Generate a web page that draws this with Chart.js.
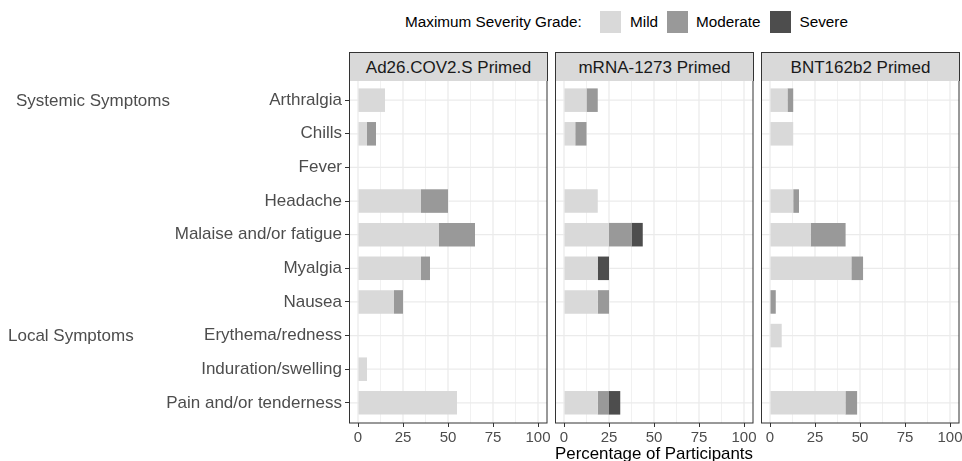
<!DOCTYPE html>
<html>
<head>
<meta charset="utf-8">
<script src="https://cdn.jsdelivr.net/npm/chart.js@4.4.1/dist/chart.umd.min.js"></script>
<style>
  html, body { margin: 0; padding: 0; background: #fff; overflow: hidden; }
  #wrap { position: relative; width: 962px; height: 461px; overflow: hidden;
          font-family: "Liberation Sans", Arial, sans-serif; }
  canvas { position: absolute; }
  .strip { position: absolute; box-sizing: border-box; height: 29px; top: 51.5px;
           background: #d9d9d9; border: 1px solid #333; border-bottom: none;
           font-size: 17px; color: #1a1a1a; text-align: center; line-height: 29px; }
  .leg { position: absolute; font-size: 15.3px; color: #000; line-height: 18px; top: 13px; }
  .key { position: absolute; top: 10.5px; width: 21px; height: 22px; }
</style>
</head>
<body>
<div id="wrap">
  <div class="leg" style="left:405px">Maximum Severity Grade:</div>
  <div class="key" style="left:600px;background:#d9d9d9"></div>
  <div class="leg" style="left:630px">Mild</div>
  <div class="key" style="left:666.5px;background:#999999"></div>
  <div class="leg" style="left:696px">Moderate</div>
  <div class="key" style="left:770px;background:#4d4d4d"></div>
  <div class="leg" style="left:799.5px">Severe</div>
</div>
<script>
const categories = ["Arthralgia", "Chills", "Fever", "Headache", "Malaise and/or fatigue",
  "Myalgia", "Nausea", "Erythema/redness", "Induration/swelling", "Pain and/or tenderness"];
const severities = ["Mild", "Moderate", "Severe"];
const severityColors = ["#d9d9d9", "#999999", "#4d4d4d"];
const panelTitles = ["Ad26.COV2.S Primed", "mRNA-1273 Primed", "BNT162b2 Primed"];

// percentages, one array per severity, rows follow categories
const ad26Mild     = [15, 5, 0, 35, 45, 35, 20, 0, 5, 55];
const ad26Moderate = [0, 5, 0, 15, 20, 5, 5, 0, 0, 0];
const ad26Severe   = [0, 0, 0, 0, 0, 0, 0, 0, 0, 0];
const mrnaMild     = [12.5, 6.25, 0, 18.75, 25, 18.75, 18.75, 0, 0, 18.75];
const mrnaModerate = [6.25, 6.25, 0, 0, 12.5, 0, 6.25, 0, 0, 6.25];
const mrnaSevere   = [0, 0, 0, 0, 6.25, 6.25, 0, 0, 0, 6.25];
const bntMild      = [9.7, 12.9, 0, 12.9, 22.6, 45.2, 0, 6.5, 0, 41.9];
const bntModerate  = [3.2, 0, 0, 3.2, 19.4, 6.5, 3.2, 0, 0, 6.5];
const bntSevere    = [0, 0, 0, 0, 0, 0, 0, 0, 0, 0];

const majorTicks = [0, 25, 50, 75, 100];
const minorTicks = [12.5, 37.5, 62.5, 87.5];
const groupLabels = [{ text: "Systemic Symptoms", row: 0, x: 16 }, { text: "Local Symptoms", row: 7, x: 8 }];

const panelValues = [
  [ad26Mild, ad26Moderate, ad26Severe],
  [mrnaMild, mrnaModerate, mrnaSevere],
  [bntMild, bntModerate, bntSevere]
];

const FONT = "'Liberation Sans', Arial, sans-serif";
const panelLeft = [349, 555, 761];
const panelW = 198;

// grid + border drawn per panel, ggplot style
const panelPlugin = {
  id: "panelDeco",
  beforeDatasetsDraw(chart) {
    const { ctx, chartArea: a, scales: { x, y } } = chart;
    ctx.save();
    ctx.strokeStyle = "#ebebeb";
    ctx.lineWidth = 0.7;
    minorTicks.forEach(v => {
      const px = x.getPixelForValue(v);
      ctx.beginPath(); ctx.moveTo(px, a.top); ctx.lineTo(px, a.bottom); ctx.stroke();
    });
    ctx.lineWidth = 1.3;
    majorTicks.forEach(v => {
      const px = x.getPixelForValue(v);
      ctx.beginPath(); ctx.moveTo(px, a.top); ctx.lineTo(px, a.bottom); ctx.stroke();
    });
    categories.forEach((c, i) => {
      const py = y.getPixelForValue(i);
      ctx.beginPath(); ctx.moveTo(a.left, py); ctx.lineTo(a.right, py); ctx.stroke();
    });
    ctx.restore();
  },
  afterDraw(chart) {
    const { ctx, chartArea: a, scales: { y } } = chart;
    ctx.save();
    ctx.strokeStyle = "#333333";
    ctx.lineWidth = 1;
    ctx.strokeRect(a.left + 0.5, a.top, a.right - a.left - 0.5, a.bottom - a.top);
    if (chart.options.plugins.panelDeco.groups) {
      ctx.fillStyle = "#4d4d4d";
      ctx.font = "17px " + FONT;
      ctx.textAlign = "left";
      ctx.textBaseline = "middle";
      groupLabels.forEach(g => ctx.fillText(g.text, g.x, y.getPixelForValue(g.row) + 1));
    }
    ctx.restore();
  }
};

function makePanel(p) {
  const first = p === 0;
  const padL = first ? 0 : 20;
  const padR = p === 2 ? 12 : 20;
  const canvas = document.createElement("canvas");
  const w = (first ? panelLeft[0] : padL) + panelW + padR;
  canvas.width = w;
  canvas.height = 385;
  canvas.style.left = (first ? 0 : panelLeft[p] - padL) + "px";
  canvas.style.top = "80px";
  canvas.style.width = w + "px";
  canvas.style.height = "385px";
  document.getElementById("wrap").appendChild(canvas);

  const strip = document.createElement("div");
  strip.className = "strip";
  strip.style.left = panelLeft[p] + "px";
  strip.style.width = (panelW + 1) + "px";
  strip.textContent = panelTitles[p];
  document.getElementById("wrap").appendChild(strip);

  new Chart(canvas, {
    type: "bar",
    data: {
      datasets: severities.map((s, k) => ({
        label: s,
        data: panelValues[p][k].map((v, i) => ({ x: v, y: i })),
        backgroundColor: severityColors[k],
        borderWidth: 0,
        barPercentage: 0.7,
        categoryPercentage: 1
      }))
    },
    options: {
      indexAxis: "y",
      responsive: false,
      animation: false,
      layout: { padding: { left: padL, right: padR, top: 0, bottom: 0 } },
      plugins: { legend: { display: false }, tooltip: { enabled: false }, panelDeco: { groups: first } },
      scales: {
        x: {
          type: "linear", min: -5, max: 105, stacked: true,
          afterBuildTicks: ax => { ax.ticks = majorTicks.map(v => ({ value: v })); },
          afterFit: ax => { ax.height = 42; },
          grid: { drawOnChartArea: false, drawTicks: true, tickLength: 4, color: "#333333", lineWidth: 1 },
          border: { display: false },
          ticks: { color: "#4d4d4d", font: { family: FONT, size: 15 }, padding: 2, maxRotation: 0 },
          title: {
            display: p === 1, text: "Percentage of Participants", color: "#000",
            font: { family: FONT, size: 17 }, padding: { top: 0, bottom: 0 }
          }
        },
        y: {
          type: "linear", min: -0.6, max: 9.6, reverse: true, stacked: true,
          offset: false,
          display: first,
          afterBuildTicks: ax => { ax.ticks = categories.map((c, i) => ({ value: i })); },
          afterFit: ax => {
            if (first) ax.width = panelLeft[0];
            ax.paddingTop = 0;
            ax.paddingBottom = 0;
          },
          grid: { offset: false, drawOnChartArea: false, drawTicks: true, tickLength: 4, color: "#333333", lineWidth: 1 },
          border: { display: false },
          ticks: {
            autoSkip: false, color: "#4d4d4d", font: { family: FONT, size: 17 }, padding: 3,
            callback: v => categories[v]
          }
        }
      }
    },
    plugins: [panelPlugin]
  });
}

[0, 1, 2].forEach(makePanel);
</script>
</body>
</html>
